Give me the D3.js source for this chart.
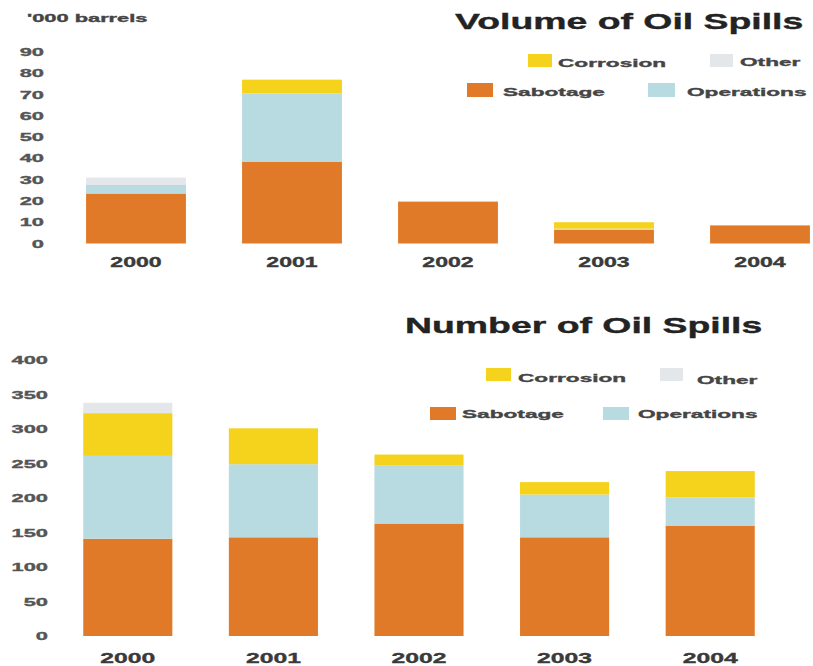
<!DOCTYPE html>
<html>
<head>
<meta charset="utf-8">
<script src="https://cdn.jsdelivr.net/npm/d3@7/dist/d3.min.js"></script>
<style>
  html, body { margin: 0; padding: 0; background: #fff; }
  svg { display: block; }
  text { font-family: "Liberation Sans", Arial, sans-serif; font-weight: bold; }
</style>
</head>
<body>
<svg id="chart" width="813" height="666"></svg>
<script>
// Years shown on both panels
const years = ["2000", "2001", "2002", "2003", "2004"];
// Causes, stacked bottom to top
const causes = ["Sabotage", "Operations", "Corrosion", "Other"];
const causeColors = ["#e07a28", "#b8dbe1", "#f5d21c", "#e4e7ea"];

// Volume of oil spilled ('000 barrels) per cause
const volSabotage   = [23.5, 38.5, 19.5, 6.5, 8.5];
const volOperations = [4, 32, 0.5, 0.5, 0];
const volCorrosion  = [0, 6.5, 0, 3, 0];
const volOther      = [3.5, 0, 0, 0, 0];
const volTicks = [0, 10, 20, 30, 40, 50, 60, 70, 80, 90];

// Number of oil spills per cause
const numSabotage   = [141, 143, 163, 143, 160];
const numOperations = [120, 106, 84, 62, 41];
const numCorrosion  = [62, 52, 16, 18, 38];
const numOther      = [15, 0, 0, 0, 0];
const numTicks = [0, 50, 100, 150, 200, 250, 300, 350, 400];

const svg = d3.select("#chart");
const color = d3.scaleOrdinal().domain(causes).range(causeColors);

// Heavy bold text widened horizontally (the lettering in this chart is extended)
function wideText(parent, x, y, str, size, sx, anchor, fill) {
  return parent.append("text")
    .attr("transform", `translate(${x},${y}) scale(${sx},1)`)
    .attr("text-anchor", anchor)
    .attr("font-size", size)
    .attr("fill", fill)
    .attr("stroke", fill)
    .attr("stroke-width", 0.35)
    .text(str);
}

function rowsFrom(series) {
  return years.map((yr, i) => {
    const r = { year: yr };
    causes.forEach((c, k) => { r[c] = series[k][i]; });
    return r;
  });
}

function drawPanel(opt) {
  const g = svg.append("g");
  const x = d3.scaleBand().domain(years)
    .range(opt.xRange).paddingInner(opt.padIn).paddingOuter(opt.padIn / 2);
  const y = d3.scaleLinear().domain(opt.yDomain).range(opt.yRange);

  const stacked = d3.stack().keys(causes)(rowsFrom(opt.series));
  g.selectAll("g.layer").data(stacked).join("g")
    .attr("class", "layer")
    .attr("fill", d => color(d.key))
    .selectAll("rect").data(d => d).join("rect")
    .attr("x", d => x(d.data.year))
    .attr("width", x.bandwidth())
    .attr("y", d => y(d[1]))
    .attr("height", d => Math.max(0, y(d[0]) - y(d[1])));

  // value axis labels
  opt.ticks.forEach(t => {
    wideText(g, opt.tickX, y(t) + opt.tickDy, String(t), opt.tickSize, 1.9, "end", "#555");
  });
  // year labels
  years.forEach(yr => {
    wideText(g, x(yr) + x.bandwidth() / 2, opt.yearY, yr, opt.yearSize, 1.65, "middle", "#3a3a3a");
  });
  // title
  wideText(g, opt.titleX, opt.titleY, opt.title, 22, 1.7, "start", "#232323");

  // legend
  opt.legend.forEach(L => {
    g.append("rect")
      .attr("x", L.sx).attr("y", L.sy).attr("width", L.sw).attr("height", L.sh)
      .attr("fill", color(L.key));
    wideText(g, L.tx, L.ty, L.key, 11.5, 1.97, "start", "#454545");
  });
  return g;
}

// Volume panel
const volPanel = drawPanel({
  series: [volSabotage, volOperations, volCorrosion, volOther],
  xRange: [58, 838], padIn: 0.36,
  yDomain: [0, 90], yRange: [243.5, 52],
  ticks: volTicks, tickX: 44, tickDy: 4, tickSize: 11.5,
  yearY: 267, yearSize: 14,
  title: "Volume of Oil Spills", titleX: 455, titleY: 29,
  legend: [
    { key: "Corrosion",  sx: 528, sy: 54, sw: 24, sh: 13, tx: 558, ty: 67 },
    { key: "Other",      sx: 710, sy: 54, sw: 23, sh: 13, tx: 740, ty: 66 },
    { key: "Sabotage",   sx: 467, sy: 83, sw: 26, sh: 14, tx: 503, ty: 96 },
    { key: "Operations", sx: 648, sy: 83, sw: 27, sh: 14, tx: 687, ty: 96 }
  ]
});
wideText(volPanel, 27, 22, "'000 barrels", 11.5, 1.9, "start", "#454545");

// Number panel
drawPanel({
  series: [numSabotage, numOperations, numCorrosion, numOther],
  xRange: [55, 783], padIn: 0.388,
  yDomain: [0, 400], yRange: [636, 360],
  ticks: numTicks, tickX: 48, tickDy: 4, tickSize: 11.5,
  yearY: 663, yearSize: 15,
  title: "Number of Oil Spills", titleX: 405, titleY: 333,
  legend: [
    { key: "Corrosion",  sx: 486, sy: 368, sw: 25, sh: 13, tx: 518, ty: 382 },
    { key: "Other",      sx: 660, sy: 368, sw: 23, sh: 13, tx: 697, ty: 384 },
    { key: "Sabotage",   sx: 430, sy: 407, sw: 26, sh: 13, tx: 462, ty: 418 },
    { key: "Operations", sx: 603, sy: 407, sw: 26, sh: 13, tx: 638, ty: 418 }
  ]
});
</script>
</body>
</html>
